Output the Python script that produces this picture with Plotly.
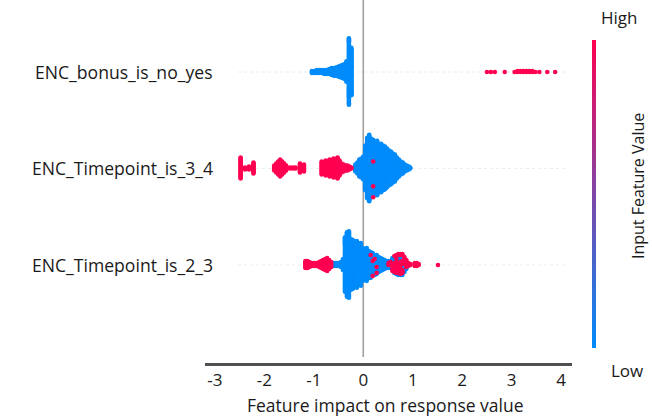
import numpy as np
import plotly.graph_objects as go

# ---------------- data (SHAP values) ----------------
features = ["ENC_bonus_is_no_yes", "ENC_Timepoint_is_3_4", "ENC_Timepoint_is_2_3"]
feature_rows = [2, 1, 0]

# ENC_bonus_is_no_yes
bonus_low_shap = [-1.04, -0.99, -0.94, -0.89, -0.84, -0.79, -0.74, -0.69, -0.64, -0.59,
                  -0.54, -0.49, -0.44, -0.39, -0.34, -0.29, -0.24]
bonus_low_count = [3, 3, 4, 4, 4, 5, 5, 6, 8, 9, 10, 12, 14, 16, 22, 70, 50]
bonus_high_shap = [2.50, 2.58, 2.66, 2.86, 3.06, 3.12, 3.18, 3.24, 3.30, 3.36, 3.42, 3.48,
                   3.56, 3.72, 3.88]
bonus_high_count = [1, 1, 1, 1, 1, 2, 2, 2, 2, 2, 2, 1, 1, 1, 1]

# ENC_Timepoint_is_3_4
tp34_low_shap = [-0.16, -0.12, -0.08, -0.04, 0.00, 0.04, 0.08, 0.12, 0.16, 0.20, 0.24, 0.28,
                 0.32, 0.36, 0.40, 0.44, 0.48, 0.52, 0.56, 0.60, 0.64, 0.68, 0.72, 0.76,
                 0.80, 0.84, 0.88, 0.92, 0.95]
tp34_low_count = [8, 12, 18, 20, 24, 46, 62, 68, 60, 56, 54, 56, 50, 50, 46, 44, 40, 36, 34,
                  30, 28, 22, 18, 14, 12, 8, 6, 4, 2]
tp34_high_shap = [-2.48, -2.39, -2.31, -2.22,
                  -1.80, -1.76, -1.72, -1.68, -1.64, -1.60, -1.56, -1.48, -1.42, -1.37,
                  -1.28, -1.24, -1.20,
                  -0.84, -0.80, -0.76, -0.72, -0.68, -0.64, -0.60, -0.56, -0.52, -0.48,
                  -0.44, -0.40, -0.36, -0.32, -0.28, -0.24, 0.20]
tp34_high_count = [22, 3, 4, 12,
                   6, 10, 14, 18, 14, 10, 6, 2, 2, 2,
                   10, 6, 8,
                   14, 10, 16, 12, 18, 16, 20, 18, 22, 16,
                   10, 8, 6, 6, 4, 2, 3]

# ENC_Timepoint_is_2_3
tp23_low_shap = [-0.61, -0.57, -0.53, -0.49, -0.45, -0.41, -0.37, -0.33, -0.29, -0.25, -0.21,
                 -0.17, -0.13, -0.09, -0.05, -0.01, 0.03, 0.07, 0.11, 0.15, 0.19, 0.23,
                 0.27, 0.31, 0.35, 0.39, 0.43, 0.47, 0.51, 0.55, 0.59, 0.63, 0.67, 0.71,
                 0.75, 0.79, 0.83, 0.87]
tp23_low_count = [4, 4, 4, 4, 6, 12, 56, 66, 68, 52, 50, 44, 48, 40, 44, 34, 32, 34, 28, 26,
                  22, 20, 18, 16, 14, 12, 10, 8, 6, 6, 10, 12, 12, 12, 10, 12, 8, 4]
tp23_high_shap = [-1.17, -1.13, -1.09, -1.05, -1.01, -0.97, -0.93, -0.89, -0.85, -0.81,
                  -0.77, -0.73, -0.69, -0.65,
                  0.15, 0.19, 0.23, 0.27, 0.51, 0.55, 0.59, 0.63, 0.67, 0.71, 0.75, 0.79,
                  0.83, 0.87, 0.91, 0.95, 1.04, 1.08, 1.12, 1.51]
tp23_high_count = [8, 8, 6, 4, 4, 4, 4, 6, 8, 10, 12, 14, 10, 6,
                   1, 2, 1, 2, 2, 2, 4, 6, 8, 10, 12, 10, 8, 6, 4, 2, 4, 4, 2, 1]

x_ticks = [-3, -2, -1, 0, 1, 2, 3, 4]
x_tick_labels = ["-3", "-2", "-1", "0", "1", "2", "3", "4"]

row_data = [
    (bonus_low_shap, bonus_low_count, bonus_high_shap, bonus_high_count),
    (tp34_low_shap, tp34_low_count, tp34_high_shap, tp34_high_count),
    (tp23_low_shap, tp23_low_count, tp23_high_shap, tp23_high_count),
]

BLUE = "#008bfb"
RED = "#ff0051"


def expand(vals, counts, feat_val):
    v = np.repeat(np.asarray(vals, float), counts)
    c = np.full(len(v), feat_val, float)
    return v, c


def beeswarm(values, nbins=100, row_height=0.4):
    """SHAP-style beeswarm stacking (deterministic ordering within a bin)."""
    n = len(values)
    quant = np.round(nbins * (values - values.min()) / (values.max() - values.min() + 1e-8))
    mix = (np.arange(n) * 0.6180339887) % 1.0
    inds = np.lexsort((mix, quant))
    ys = np.zeros(n)
    layer = 0
    last = None
    for ind in inds:
        if quant[ind] != last:
            layer = 0
        ys[ind] = np.ceil(layer / 2) * ((layer % 2) * 2 - 1)
        layer += 1
        last = quant[ind]
    ys *= 0.9 * (row_height / np.max(ys + 1))
    return ys


fig = go.Figure()

X0, X1 = -3.2, 4.22
Y0, Y1 = -1.016, 2.539

# faint dotted row guide lines
for r in feature_rows:
    fig.add_shape(type="line", x0=-2.53, x1=4.13, y0=r, y1=r, xref="x", yref="y",
                  line=dict(color="#ececec", width=1, dash="dot"), layer="below")

# zero line
fig.add_shape(type="line", x0=0, x1=0, y0=0.0175, y1=1.07, xref="x", yref="paper",
              line=dict(color="#a0a0a0", width=1.6), layer="below")

for i, (row, (lv, lc, hv, hc)) in enumerate(zip(feature_rows, row_data)):
    v1, c1 = expand(lv, lc, 0.0)
    v2, c2 = expand(hv, hc, 1.0)
    vals = np.concatenate([v1, v2])
    cols = np.concatenate([c1, c2])
    ys = beeswarm(vals) + row
    order = np.argsort(cols, kind="stable")
    fig.add_trace(go.Scatter(
        x=vals[order], y=ys[order], mode="markers",
        marker=dict(size=4.6, color=cols[order], cmin=0, cmax=1,
                    colorscale=[[0, BLUE], [1, RED]], line=dict(width=0),
                    showscale=(i == 0),
                    colorbar=dict(thickness=4, thicknessmode="pixels",
                                  len=308, lenmode="pixels",
                                  x=1.0545, xanchor="left", xpad=0,
                                  y=0.4927, yanchor="middle", ypad=0,
                                  outlinewidth=0, showticklabels=False, ticks="")),
        hoverinfo="skip", showlegend=False))

font_family = "Open Sans, Liberation Sans, sans-serif"
txt = "#1a1a1a"

annotations = []
for name, r in zip(features, feature_rows):
    annotations.append(dict(text=name, x=0.0272, xref="paper", y=r, yref="y",
                            xanchor="right", yanchor="middle", showarrow=False,
                            font=dict(size=17.6, color=txt, family=font_family)))
annotations += [
    dict(text="High", x=1.127, y=1.0073, xref="paper", yref="paper", showarrow=False,
         xanchor="center", yanchor="middle", font=dict(size=17, color=txt, family=font_family)),
    dict(text="Low", x=1.149, y=-0.0233, xref="paper", yref="paper", showarrow=False,
         xanchor="center", yanchor="middle", font=dict(size=17, color=txt, family=font_family)),
    dict(text="Input Feature Value", x=1.18, y=0.516, xref="paper", yref="paper",
         showarrow=False, textangle=-90, xanchor="center", yanchor="middle",
         font=dict(size=16, color=txt, family=font_family)),
    dict(text="Feature impact on response value", x=0.493, y=-0.1225, xref="paper",
         yref="paper", showarrow=False, xanchor="center", yanchor="middle",
         font=dict(size=17.5, color=txt, family=font_family)),
]

fig.update_layout(
    width=652, height=416,
    margin=dict(l=205, r=80, t=20, b=53),
    paper_bgcolor="white", plot_bgcolor="white",
    annotations=annotations,
    font=dict(family=font_family, color=txt),
    xaxis=dict(range=[X0, X1], showgrid=False, zeroline=False, showline=True,
               linecolor="#505050", linewidth=2.5, tickvals=x_ticks, ticktext=x_tick_labels,
               ticks="", tickfont=dict(size=17, color=txt, family=font_family),
               fixedrange=True),
    yaxis=dict(range=[Y0, Y1], visible=False, fixedrange=True),
)

fig.write_html("out.html")
